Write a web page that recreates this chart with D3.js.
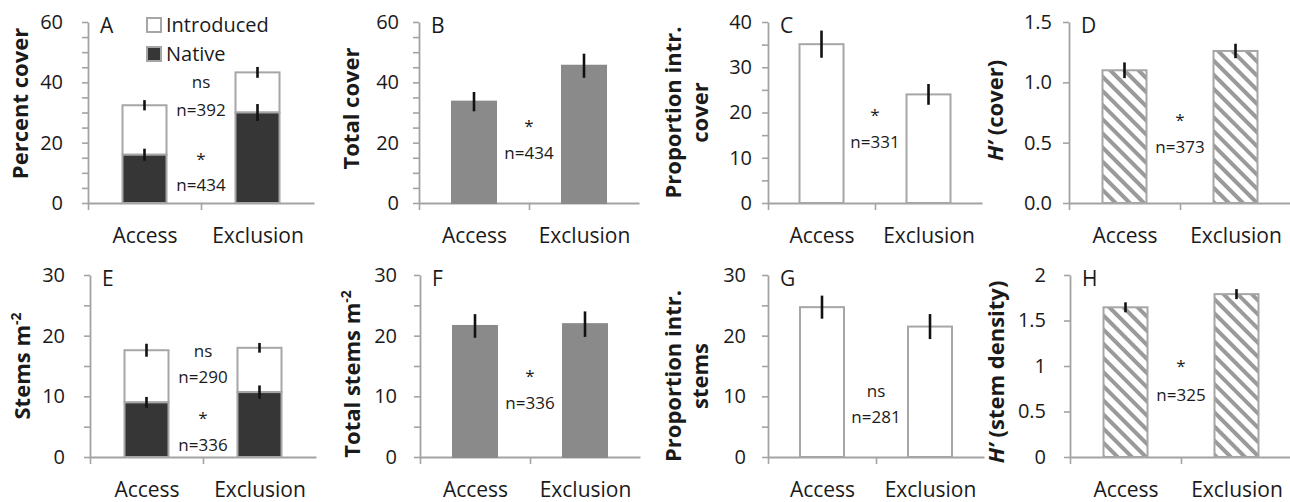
<!DOCTYPE html>
<html>
<head>
<meta charset="utf-8">
<script src="https://cdn.jsdelivr.net/npm/d3@7"></script>
<style>
  body { margin: 0; background: #fff; }
  text { font-family: "Open Sans", sans-serif; fill: #1a1a1a; }
</style>
</head>
<body>
<svg id="chart" width="1290" height="502"></svg>
<script>
// values
var categories = ["Access", "Exclusion"];

var coverNative = [16.0, 30.0];
var coverNativeErr = [2.0, 2.8];
var coverIntroduced = [16.4, 13.3];
var coverTotalErr = [1.7, 1.8];

var totalCover = [33.6, 45.5];
var totalCoverErr = [3.2, 4.0];

var propIntrCover = [35.1, 24.0];
var propIntrCoverErr = [3.0, 2.3];

var hCover = [1.10, 1.26];
var hCoverErr = [0.065, 0.06];

var stemsNative = [9.0, 10.7];
var stemsNativeErr = [0.9, 1.1];
var stemsIntroduced = [8.6, 7.3];
var stemsTotalErr = [1.07, 0.8];

var totalStems = [21.6, 21.9];
var totalStemsErr = [1.95, 2.1];

var propIntrStems = [24.7, 21.5];
var propIntrStemsErr = [1.9, 2.06];

var hStems = [1.645, 1.79];
var hStemsErr = [0.055, 0.055];

// tick labels
var ticks60 = [0, 20, 40, 60];
var ticks40 = [0, 10, 20, 30, 40];
var ticks30 = [0, 10, 20, 30];
var ticksH1 = [0, 0.5, 1.0, 1.5];
var ticksH2 = [0, 0.5, 1, 1.5, 2];

// stats notes: [text, height in data units]
var notesA = [["ns", 38.1], ["n=392", 28.8], ["*", 12.6], ["n=434", 4.0]];
var notesB = [["*", 23.5], ["n=434", 14.6]];
var notesC = [["*", 18.1], ["n=331", 12.2]];
var notesD = [["*", 0.638], ["n=373", 0.414]];
var notesE = [["ns", 16.5], ["n=290", 12.2], ["*", 5.4], ["n=336", 1.0]];
var notesF = [["*", 12.4], ["n=336", 7.9]];
var notesG = [["ns", 9.9], ["n=281", 5.6]];
var notesH = [["*", 0.934], ["n=325", 0.615]];

// theme
var AXIS = '#a3a3a3';
var BAR_STROKE = '#a6a6a6';
var GRAY_FILL = '#8a8a8a';
var DARK_FILL = '#363636';
var BAR_W = 44;

var svg = d3.select('#chart');

var defs = svg.append('defs');
var hatch = defs.append('pattern')
    .attr('id', 'hatch')
    .attr('patternUnits', 'userSpaceOnUse')
    .attr('width', 10).attr('height', 10)
    .attr('patternTransform', 'rotate(-45)');
hatch.append('rect').attr('width', 10).attr('height', 10).attr('fill', '#fff');
hatch.append('line').attr('x1', 5).attr('y1', 0).attr('x2', 5).attr('y2', 10)
    .attr('stroke', '#9a9a9a').attr('stroke-width', 4);

var panels = [
  {letter: 'A', x: 88, y: 22, w: 226, h: 181, max: 60, ticks: ticks60, minor: 5, pad: 19,
   fmt: d3.format('d'), title: ['Percent cover'], tdy: -9, kind: 'stack',
   native: coverNative, nativeErr: coverNativeErr, intro: coverIntroduced, totalErr: coverTotalErr,
   notes: notesA, legend: true},
  {letter: 'B', x: 419, y: 22, w: 220, h: 181, max: 60, ticks: ticks60, minor: 5, pad: 14,
   fmt: d3.format('d'), title: ['Total cover'], tdy: -4, kind: 'gray',
   vals: totalCover, errs: totalCoverErr, notes: notesB},
  {letter: 'C', x: 768, y: 22, w: 214, h: 181, max: 40, ticks: ticks40, minor: 5, pad: 10,
   fmt: d3.format('d'), title: ['Proportion intr.', 'cover'], tdy: 0, kind: 'white',
   vals: propIntrCover, errs: propIntrCoverErr, notes: notesC},
  {letter: 'D', x: 1069, y: 22, w: 222, h: 181, max: 1.5, ticks: ticksH1, minor: 0, pad: 11,
   fmt: d3.format('.1f'), title: ['H’', ' (cover)'], tdy: -2, italicH: true, kind: 'hatch',
   vals: hCover, errs: hCoverErr, notes: notesD},
  {letter: 'E', x: 90, y: 275, w: 226, h: 182, max: 30, ticks: ticks30, minor: 5, pad: 19,
   fmt: d3.format('d'), title: ['Stems m'], sup: '-2', tdy: 0, kind: 'stack',
   native: stemsNative, nativeErr: stemsNativeErr, intro: stemsIntroduced, totalErr: stemsTotalErr,
   notes: notesE},
  {letter: 'F', x: 420, y: 275, w: 220, h: 182, max: 30, ticks: ticks30, minor: 5, pad: 17,
   fmt: d3.format('d'), title: ['Total stems m'], sup: '-2', tdy: 8, kind: 'gray',
   vals: totalStems, errs: totalStemsErr, notes: notesF},
  {letter: 'G', x: 768, y: 275, w: 216, h: 182, max: 30, ticks: ticks30, minor: 5, pad: 16,
   fmt: d3.format('d'), title: ['Proportion intr.', 'stems'], tdy: 10, kind: 'white',
   vals: propIntrStems, errs: propIntrStemsErr, notes: notesG},
  {letter: 'H', x: 1070, y: 275, w: 222, h: 182, max: 2, ticks: ticksH2, minor: 0, pad: 18,
   fmt: function(d){ return String(d); }, title: ['H’', ' (stem density)'], tdy: 6, italicH: true, kind: 'hatch',
   vals: hStems, errs: hStemsErr, notes: notesH}
];

function errBar(g, x, y, cx, v, e) {
  g.append('line')
    .attr('x1', x(cx)).attr('x2', x(cx))
    .attr('y1', y(v - e)).attr('y2', y(v + e))
    .attr('stroke', '#111').attr('stroke-width', 2.6);
}

function drawPanel(p) {
  var g = svg.append('g').attr('transform', 'translate(' + p.x + ',' + p.y + ')');
  var y = d3.scaleLinear().domain([0, p.max]).range([p.h, 0]);
  var x = d3.scalePoint().domain(categories).range([0, p.w]).padding(0.5);

  // minor ticks
  if (p.minor) {
    var minors = d3.range(p.minor, p.max, p.minor).filter(function(v){ return p.ticks.indexOf(v) < 0; });
    var ma = g.append('g').call(d3.axisLeft(y).tickValues(minors).tickSize(6).tickFormat(''));
    ma.select('.domain').remove();
    ma.selectAll('line').attr('stroke', AXIS).attr('stroke-width', 1.6);
  }
  var ya = g.append('g').call(d3.axisLeft(y).tickValues(p.ticks).tickSize(6).tickSizeOuter(0)
      .tickPadding(p.pad).tickFormat(p.fmt));
  ya.select('.domain').attr('stroke', AXIS).attr('stroke-width', 1.8);
  ya.selectAll('line').attr('stroke', AXIS).attr('stroke-width', 1.6);
  ya.selectAll('text').attr('font-size', 20).attr('fill', '#1a1a1a');

  // x axis with boundary ticks
  var xb = d3.scaleLinear().domain([0, 2]).range([0, p.w]);
  var xa = g.append('g').attr('transform', 'translate(0,' + p.h + ')')
      .call(d3.axisBottom(xb).tickValues([0, 1]).tickSize(7).tickSizeOuter(0).tickFormat(''));
  xa.select('.domain').attr('stroke', AXIS).attr('stroke-width', 1.8);
  xa.selectAll('line').attr('stroke', AXIS).attr('stroke-width', 1.6);

  var xc = g.append('g').attr('transform', 'translate(0,' + p.h + ')')
      .call(d3.axisBottom(x).tickSize(0).tickPadding(25));
  xc.select('.domain').remove();
  xc.selectAll('text').attr('font-size', 21).attr('fill', '#1a1a1a');

  // bars
  var bars = g.append('g');
  if (p.kind === 'stack') {
    var rows = categories.map(function(c, i) {
      return {c: c, n: p.native[i], t: p.native[i] + p.intro[i], ne: p.nativeErr[i], te: p.totalErr[i]};
    });
    bars.selectAll('.intro').data(rows).enter().append('rect')
      .attr('x', function(d){ return x(d.c) - BAR_W / 2; })
      .attr('width', BAR_W)
      .attr('y', function(d){ return y(d.t); })
      .attr('height', function(d){ return y(d.n) - y(d.t); })
      .attr('fill', '#fff').attr('stroke', BAR_STROKE).attr('stroke-width', 2);
    bars.selectAll('.native').data(rows).enter().append('rect')
      .attr('x', function(d){ return x(d.c) - BAR_W / 2; })
      .attr('width', BAR_W)
      .attr('y', function(d){ return y(d.n); })
      .attr('height', function(d){ return y(0) - y(d.n); })
      .attr('fill', DARK_FILL).attr('stroke', BAR_STROKE).attr('stroke-width', 2);
    rows.forEach(function(d) {
      errBar(bars, x, y, d.c, d.t, d.te);
      errBar(bars, x, y, d.c, d.n, d.ne);
    });
  } else {
    var fill = p.kind === 'gray' ? GRAY_FILL : (p.kind === 'hatch' ? 'url(#hatch)' : '#fff');
    var stroke = p.kind === 'gray' ? GRAY_FILL : BAR_STROKE;
    bars.selectAll('rect').data(categories).enter().append('rect')
      .attr('x', function(c){ return x(c) - BAR_W / 2; })
      .attr('width', BAR_W)
      .attr('y', function(c, i){ return y(p.vals[i]); })
      .attr('height', function(c, i){ return y(0) - y(p.vals[i]); })
      .attr('fill', fill).attr('stroke', stroke).attr('stroke-width', 2);
    categories.forEach(function(c, i) { errBar(bars, x, y, c, p.vals[i], p.errs[i]); });
  }

  // stats notes, centred on the middle tick
  g.selectAll('.note').data(p.notes).enter().append('text')
    .attr('class', 'note')
    .attr('x', xb(1))
    .attr('y', function(d){ return y(d[1]); })
    .attr('text-anchor', 'middle')
    .attr('font-size', 17)
    .text(function(d){ return d[0]; });

  // panel letter
  g.append('text').attr('x', 12).attr('y', 11).attr('font-size', 21).text(p.letter);

  // y title
  var cy = p.h / 2 + p.tdy;
  var off = p.italicH ? -66 : -60;
  if (p.title.length === 2 && !p.italicH) {
    [[p.title[0], -87], [p.title[1], -60]].forEach(function(t) {
      g.append('text')
        .attr('transform', 'translate(' + t[1] + ',' + cy + ') rotate(-90)')
        .attr('text-anchor', 'middle').attr('font-size', 22).attr('font-weight', 'bold')
        .text(t[0]);
    });
  } else {
    var tt = g.append('text')
      .attr('transform', 'translate(' + off + ',' + cy + ') rotate(-90)')
      .attr('text-anchor', 'middle').attr('font-size', 22).attr('font-weight', 'bold');
    if (p.italicH) {
      tt.append('tspan').attr('font-style', 'italic').text(p.title[0]);
      tt.append('tspan').text(p.title[1]);
    } else {
      tt.append('tspan').text(p.title[0]);
      if (p.sup) tt.append('tspan').attr('font-size', 14).attr('dy', -9).text(p.sup);
    }
  }

  // legend (panel A only)
  if (p.legend) {
    var lg = g.append('g').attr('transform', 'translate(59,0)');
    [['Introduced', '#fff', 10], ['Native', DARK_FILL, 39]].forEach(function(it) {
      lg.append('rect').attr('x', 0).attr('y', it[2] - 14).attr('width', 14).attr('height', 14)
        .attr('fill', it[1]).attr('stroke', BAR_STROKE).attr('stroke-width', 2);
      lg.append('text').attr('x', 19).attr('y', it[2]).attr('font-size', 20).text(it[0]);
    });
  }
}

panels.forEach(drawPanel);
</script>
</body>
</html>
